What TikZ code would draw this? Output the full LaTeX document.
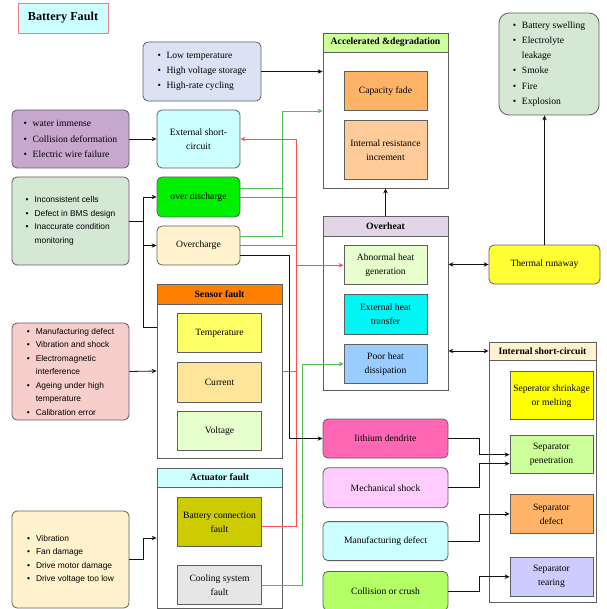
\documentclass[tikz,border=0pt]{standalone}
\usepackage{fontspec}
\setmainfont{Liberation Serif}
\newfontfamily\listsans{Liberation Sans}
\usepackage{tikz}
\usetikzlibrary{arrows.meta, positioning, calc}
\definecolor{mydark}{RGB}{20,20,20}
\definecolor{mygray}{RGB}{95,95,95}
\definecolor{myred}{RGB}{255,80,80}
\definecolor{mygreen}{RGB}{80,190,80}
\definecolor{titlefill}{RGB}{204,255,255}
\definecolor{titleline}{RGB}{240,128,128}
\definecolor{cblue}{RGB}{218,227,243}
\definecolor{cpurple}{RGB}{200,167,207}
\definecolor{cgreen}{RGB}{213,232,212}
\definecolor{cred}{RGB}{248,206,204}
\definecolor{cyellow}{RGB}{255,242,204}
\definecolor{ccyan}{RGB}{204,255,255}
\definecolor{cbright}{RGB}{0,240,0}
\definecolor{horange}{RGB}{255,128,0}
\definecolor{ctemp}{RGB}{255,255,102}
\definecolor{ccurrent}{RGB}{255,229,153}
\definecolor{clime}{RGB}{230,255,204}
\definecolor{colive}{RGB}{204,204,0}
\definecolor{clgray}{RGB}{230,230,230}
\definecolor{hlgreen}{RGB}{204,255,153}
\definecolor{corange}{RGB}{255,179,102}
\definecolor{cpeach}{RGB}{255,204,153}
\definecolor{hpurple}{RGB}{225,213,231}
\definecolor{caqua}{RGB}{0,245,245}
\definecolor{cblue2}{RGB}{153,204,255}
\definecolor{cyel}{RGB}{255,255,51}
\definecolor{cyel2}{RGB}{255,255,0}
\definecolor{clav}{RGB}{204,204,255}
\definecolor{cpink}{RGB}{255,102,179}
\definecolor{cmag}{RGB}{255,204,255}
\definecolor{cgrass}{RGB}{179,255,102}
\newcommand{\bitem}[1]{\makebox[9pt][l]{\textbullet}#1}
\newcommand{\bcont}[1]{\hspace*{9pt}#1}
\tikzset{
  sz/.style 2 args={minimum width=#1pt, minimum height=#2pt},
  box/.style={rectangle, draw=mygray, line width=0.8pt, align=center,
    font=\fontsize{9.6}{14}\selectfont, inner sep=1pt},
  rbox/.style={box, rounded corners=5pt},
  listbox/.style={rbox, align=left, font=\fontsize{9.6}{15.3}\selectfont},
  sanslist/.style={rbox, align=left, font=\listsans\fontsize{8.4}{13.5}\selectfont},
  panel/.style={rectangle, draw=mygray, line width=0.8pt, fill=white},
  hdr/.style={rectangle, draw=mygray, line width=0.8pt, anchor=north, inner sep=1pt,
    font=\fontsize{9.7}{11}\selectfont\bfseries},
  arrow/.style={-{Stealth[length=5pt, width=4.5pt]}, line width=0.8pt, color=mydark},
  darrow/.style={{Stealth[length=5pt, width=4.5pt]}-{Stealth[length=5pt, width=4.5pt]}, line width=0.8pt, color=mydark},
  line/.style={line width=0.8pt, color=mydark},
  rline/.style={line width=0.8pt, color=myred},
  rarrow/.style={rline, -{Stealth[length=5pt, width=4.5pt]}},
  gline/.style={line width=0.8pt, color=mygreen},
  garrow/.style={gline, -{Stealth[length=5pt, width=4.5pt]}}
}
\begin{document}
\begin{tikzpicture}[x=1pt, y=-1pt]
  \useasboundingbox (0,0) rectangle (606,609);

  \node[box, fill=titlefill, draw=titleline, sz={90}{30},
    font=\fontsize{12.2}{14}\selectfont\bfseries] (title) at (63,18) {Battery Fault};

  % causes
  \node[listbox, fill=cblue, sz={118}{59}] (lowtemp) at (202,71.5)
    {\bitem{Low temperature}\\\bitem{High voltage storage}\\\bitem{High-rate cycling}};
  \node[listbox, fill=cpurple, sz={117}{58}] (water) at (70.5,139)
    {\bitem{water immense}\\\bitem{Collision deformation}\\\bitem{Electric wire failure}};
  \node[sanslist, fill=cgreen, sz={117}{88}] (incons) at (70.5,221)
    {\bitem{Inconsistent cells}\\\bitem{Defect in BMS design}\\\bitem{Inaccurate condition}\\\bcont{monitoring}};
  \node[sanslist, fill=cred, sz={117}{97}] (mfglist) at (70.5,371.5)
    {\bitem{Manufacturing defect}\\\bitem{Vibration and shock}\\\bitem{Electromagnetic}\\\bcont{interference}\\\bitem{Ageing under high}\\\bcont{temperature}\\\bitem{Calibration error}};
  \node[sanslist, fill=cyellow, sz={117}{97}] (vib) at (70.5,559.5)
    {\bitem{Vibration}\\\bitem{Fan damage}\\\bitem{Drive motor damage}\\\bitem{Drive voltage too low}};

  % faults
  \node[rbox, fill=ccyan, sz={83}{58}] (esc) at (198.5,139) {External short-\\circuit};
  \node[rbox, fill=cbright, sz={83}{40}] (overdis) at (198.5,197) {over discharge};
  \node[rbox, fill=cyellow, sz={83}{39}] (overch) at (198.5,245.5) {Overcharge};

  \node[panel, sz={125}{174}] (sensor) at (219.5,371) {};
  \node[hdr, fill=horange, sz={125}{20}] (sensorhdr) at (sensor.north) {Sensor fault};
  \node[box, fill=ctemp, sz={84}{39}, below=9pt of sensorhdr] (temp) {Temperature};
  \node[box, fill=ccurrent, sz={84}{40}, below=9pt of temp] (current) {Current};
  \node[box, fill=clime, sz={84}{39}, below=8pt of current] (voltage) {Voltage};

  \node[panel, sz={125}{140}] (actuator) at (219.5,538) {};
  \node[hdr, fill=ccyan, sz={125}{19}] (actuatorhdr) at (actuator.north) {Actuator fault};
  \node[box, fill=colive, sz={84}{49}, below=10pt of actuatorhdr] (bconn) {Battery connection\\fault};
  \node[box, fill=clgray, sz={84}{39}, below=18pt of bconn] (cooling) {Cooling system\\fault};

  % consequences
  \node[panel, sz={125}{155}] (accel) at (385.5,110.5) {};
  \node[hdr, fill=hlgreen, sz={125}{19}] (accelhdr) at (accel.north) {Accelerated \&degradation};
  \node[box, fill=corange, sz={83}{39}, below=19pt of accelhdr] (capfade) {Capacity fade};
  \node[box, fill=cpeach, sz={83}{59}, below=9pt of capfade] (intres) {Internal resistance\\increment};

  \node[panel, sz={125}{174}] (overheat) at (385.5,303) {};
  \node[hdr, fill=hpurple, sz={125}{20}] (overheathdr) at (overheat.north) {Overheat};
  \node[box, fill=clime, sz={83}{39}, below=9pt of overheathdr] (abnormal) {Abnormal heat\\generation};
  \node[box, fill=caqua, sz={83}{40}, below=9pt of abnormal] (exheat) {External heat\\transfer};
  \node[box, fill=cblue2, sz={83}{39}, below=9pt of exheat] (poor) {Poor heat\\dissipation};

  \node[listbox, rounded corners=10pt, fill=cgreen, sz={100}{102}] (swell) at (549,64)
    {\bitem{Battery swelling}\\\bitem{Electrolyte}\\\bcont{leakage}\\\bitem{Smoke}\\\bitem{Fire}\\\bitem{Explosion}};
  \node[rbox, fill=cyel, sz={111}{39}] (thermal) at (544.5,264.5) {Thermal runaway};

  \node[panel, sz={107}{260}] (isc) at (542.5,472) {};
  \node[hdr, fill=cyellow, sz={107}{18}] (ischdr) at (isc.north) {Internal short-circuit};
  \node[box, fill=cyel2, sz={83}{48}, below=11pt of ischdr, xshift=9pt] (shrink) {Seperator shrinkage\\or melting};
  \node[box, fill=hlgreen, sz={83}{38}, below=15pt of shrink] (pen) {Separator\\penetration};
  \node[box, fill=corange, sz={83}{39}, below=20pt of pen] (sdef) {Separator\\defect};
  \node[box, fill=clav, sz={83}{39}, below=23pt of sdef] (tear) {Separator\\tearing};

  \node[rbox, fill=cpink, sz={125}{39}] (dendrite) at (385.5,438.5) {lithium dendrite};
  \node[rbox, fill=cmag, sz={125}{40}, below=9pt of dendrite] (mech) {Mechanical shock};
  \node[rbox, fill=ccyan, sz={125}{39}, below=13pt of mech] (mfg) {Manufacturing defect};
  \node[rbox, fill=cgrass, sz={125}{39}, below=10pt of mfg] (coll) {Collision or crush};

  % buses
  \coordinate (ibus) at (143,221);
  \coordinate (gbus) at (282,111);
  \coordinate (rbus) at (296,139);
  \coordinate (kbus) at (289,0);
  \coordinate (g2bus) at (302,0);

  % left inputs
  \draw[arrow] (lowtemp.east) -- (lowtemp.east -| accel.west);
  \draw[arrow] (water.east) -- (esc.west);
  \draw[line] (incons.east) -- (ibus);
  \draw[arrow] (ibus) |- (overdis.west);
  \draw[arrow] (ibus) |- (overch.west);
  \draw[line] (ibus) |- ([yshift=44pt]sensor.west);
  \draw[arrow] (mfglist.east) -- (sensor.west);
  \draw[arrow] (vib.east) -- ++(14,0) |- (actuator.west);

  % green links
  \draw[gline] ([yshift=9pt]overdis.east) -- ++(42,0);
  \draw[garrow] ([yshift=9.5pt]overch.east) -| (gbus) -- (gbus -| accel.west);
  \draw[garrow] (cooling.east) -| (g2bus |- poor.west) -- (poor.west);

  % red links
  \draw[rline] (overdis.east) -- (overdis.east -| rbus);
  \draw[rline] (overch.east) -- (overch.east -| rbus);
  \draw[rline] (sensor.east) -- (sensor.east -| rbus);
  \draw[rarrow] ([yshift=-4.5pt]bconn.east) -| (rbus) -- (esc.east);
  \draw[rarrow] (rbus |- abnormal.west) -- (abnormal.west);

  \draw[arrow] ([yshift=-9.5pt]overch.east) -| (kbus |- dendrite.west) -- (dendrite.west);

  % overheat links
  \draw[arrow] (overheat.north) -- (accel.south);
  \draw[darrow] (overheat.east |- thermal.west) -- (thermal.west);
  \draw[darrow] (overheat.east |- ischdr.west) -- (ischdr.west);
  \draw[arrow] (thermal.north) -- (thermal.north |- swell.south);

  % separator links
  \draw[arrow] (dendrite.east) -- ++(31,0) |- (pen.west);
  \draw[arrow] (mech.east) -- ++(31,0) |- ([yshift=-9pt]pen.west);
  \draw[arrow] (mfg.east) -- ++(31,0) |- (sdef.west);
  \draw[arrow] (coll.east) -- ++(31,0) |- (tear.west);
\end{tikzpicture}
\end{document}
